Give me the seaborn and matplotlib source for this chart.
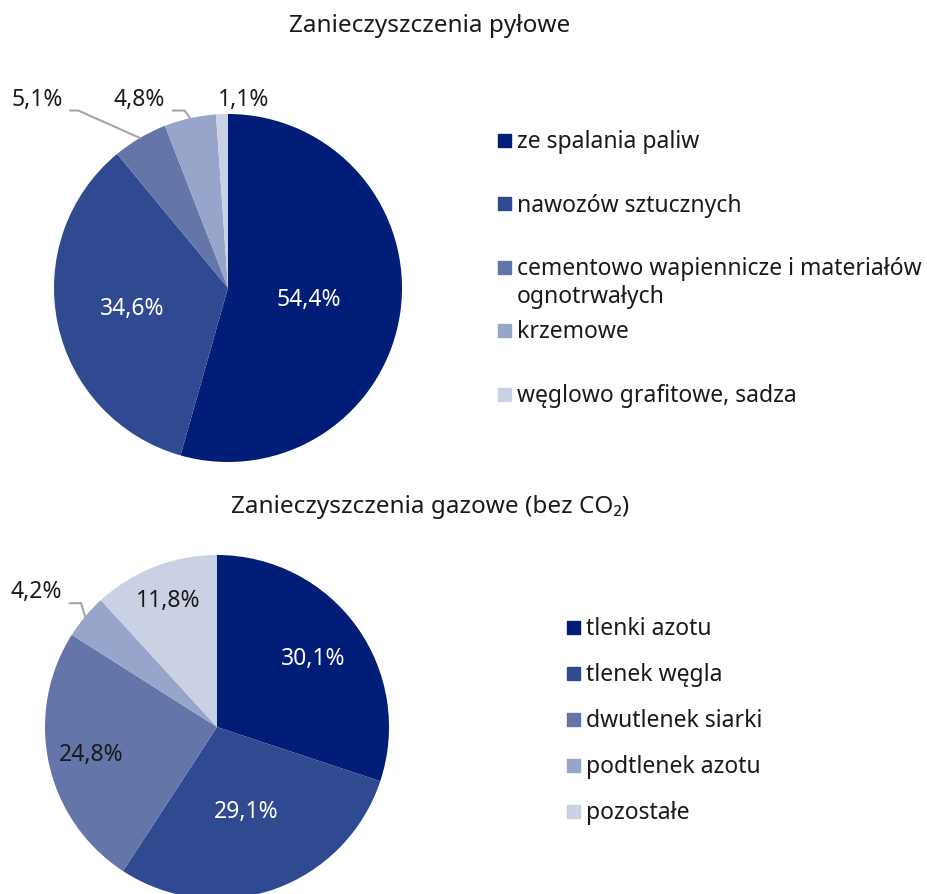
import numpy as np
import matplotlib
matplotlib.use('Agg')
import matplotlib.pyplot as plt
import seaborn as sns
from matplotlib.patches import Rectangle

# ========== dane ==========
pyl_kategorie = ['ze spalania paliw', 'nawozów sztucznych',
                 'cementowo wapiennicze i materiałów\nognotrwałych',
                 'krzemowe', 'węglowo grafitowe, sadza']
pyl_udzial = [54.4, 34.6, 5.1, 4.8, 1.1]

gaz_kategorie = ['tlenki azotu', 'tlenek węgla', 'dwutlenek siarki',
                 'podtlenek azotu', 'pozostałe']
gaz_udzial = [30.1, 29.1, 24.8, 4.2, 11.8]

kolory = ['#001d78', '#304a92', '#6475aa', '#98a5ca', '#cbd1e5']

# ========== styl ==========
sns.set_theme(style='white')
plt.rcParams['font.family'] = ['Noto Sans', 'DejaVu Sans']
paleta = sns.color_palette(kolory)

W, H = 928, 895
fig = plt.figure(figsize=(W / 100, H / 100), dpi=100)

LIM = 1.3
FS = 16.5


def pie_axes(cx, cy, r):
    # osie kwadratowe w pikselach, środek (cx, cy) od lewej/góry
    half = LIM * r
    return fig.add_axes([(cx - half) / W, (H - cy - half) / H, 2 * half / W, 2 * half / H])


def fmt(v):
    return f'{v:.1f}%'.replace('.', ',')


def rysuj(ax, wartosci, wewn, zewn):
    wedges, _ = ax.pie(wartosci, colors=paleta, startangle=90, counterclock=False,
                       wedgeprops=dict(linewidth=0))
    ax.set_xlim(-LIM, LIM)
    ax.set_ylim(-LIM, LIM)
    ax.set_aspect('equal')
    ax.axis('off')
    for i, w in enumerate(wedges):
        kat = np.deg2rad((w.theta1 + w.theta2) / 2)
        if i in wewn:
            r, kol = wewn[i]
            ax.text(r * np.cos(kat), r * np.sin(kat), fmt(wartosci[i]), color=kol,
                    ha='center', va='center', fontsize=FS)
        else:
            tx, ty, ha, kat_b = zewn[i]
            if kat_b is None:
                ax.text(tx, ty, fmt(wartosci[i]), ha=ha, va='bottom', fontsize=FS,
                        color='#1a1a1a')
            else:
                ax.annotate(fmt(wartosci[i]), xy=(np.cos(kat), np.sin(kat)), xytext=(tx, ty),
                            ha=ha, va='bottom', fontsize=FS, color='#1a1a1a',
                            arrowprops=dict(arrowstyle='-', color='#a6a6a6', lw=1.5,
                                            shrinkA=3, shrinkB=0, relpos=(1, 0),
                                            connectionstyle=f'angle,angleA=0,angleB={kat_b}'))


def legenda(x, y0, dy, etykiety):
    for i, lab in enumerate(etykiety):
        y = y0 + i * dy
        fig.add_artist(Rectangle(((x) / W, (H - y - 6.5) / H), 13 / W, 13 / H,
                                 color=paleta[i], transform=fig.transFigure))
        fig.text((x + 19) / W, (H - y + 11) / H, lab, ha='left', va='top',
                 fontsize=16.5, color='#1a1a1a', linespacing=1.22)


# ========== pyły ==========
ax1 = pie_axes(228, 289, 174)
rysuj(ax1, pyl_udzial,
      wewn={0: (0.47, 'white'), 1: (0.56, 'white')},
      zewn={2: (-0.95, 1.02, 'right', 156), 3: (-0.36, 1.02, 'right', 125),
            4: (0.09, 1.02, 'center', None)})
fig.text(430 / W, 1 - 26 / H, 'Zanieczyszczenia pyłowe', ha='center', va='center',
         fontsize=17.5, color='#1a1a1a')
legenda(498, 141, 63.5, pyl_kategorie)

# ========== gazy ==========
ax2 = pie_axes(217, 728, 172)
rysuj(ax2, gaz_udzial,
      wewn={0: (0.69, 'white'), 1: (0.52, 'white'), 2: (0.75, '#1a1a1a'), 4: (0.79, '#1a1a1a')},
      zewn={3: (-0.90, 0.72, 'right', 107)})
fig.text(430 / W, 1 - 507 / H, 'Zanieczyszczenia gazowe (bez CO₂)', ha='center',
         va='center', fontsize=17.5, color='#1a1a1a')
legenda(567, 628, 46, gaz_kategorie)

fig.savefig('out.png', dpi=100)
